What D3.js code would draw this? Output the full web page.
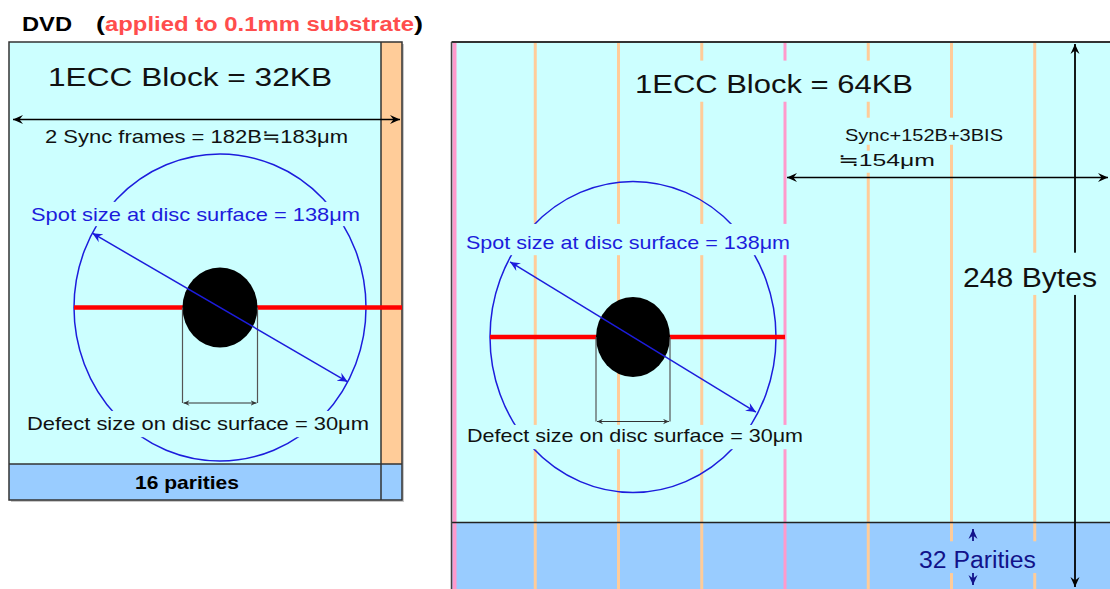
<!DOCTYPE html>
<html><head><meta charset="utf-8">
<script src="https://cdn.jsdelivr.net/npm/d3@7"></script>
<style>html,body{margin:0;padding:0;background:#fff;}svg{display:block;}</style>
</head><body>
<script>
// ---- data ----
const headerTexts = ["DVD", "(", "applied to 0.1mm substrate", ")"];
const blockTitles = ["1ECC Block = 32KB", "1ECC Block = 64KB"];
const frameLabels = ["2 Sync frames = 182B≒183μm", "Sync+152B+3BIS", "≒154μm"];
const spotLabels = ["Spot size at disc surface = 138μm", "Spot size at disc surface = 138μm"];
const defectLabels = ["Defect size on disc surface = 30μm", "Defect size on disc surface = 30μm"];
const rowLabels = ["248 Bytes"];
const parityLabels = ["16 parities", "32 Parities"];
const columnKinds = ["pink","orange","orange","orange","pink","orange","orange","orange","pink"];
const sizesUm = {spot: 138, defect: 30};

const W = 1110, H = 589;
const svg = d3.select("body").append("svg").attr("width", W).attr("height", H);
const FONT = "'Liberation Sans', Arial, 'DejaVu Sans', sans-serif";
const C = {cyan:"#ccffff", orange:"#ffcc99", parity:"#99ccff", pink:"#ff99cc", blue:"#1c1cdc", red:"#ff0000", navy:"#12128a", border:"#333"};

const defs = svg.append("defs");
function marker(id, color, s) {
  defs.append("marker").attr("id", id).attr("viewBox", "-10 -5 12 10")
    .attr("markerWidth", 12*s).attr("markerHeight", 10*s).attr("refX", 0).attr("refY", 0)
    .attr("orient", "auto-start-reverse").attr("markerUnits", "userSpaceOnUse")
    .append("path").attr("d", "M0,0 L-10,-4.5 L-6.5,0 L-10,4.5 Z").attr("fill", color);
}
marker("ab", "#000", 1.0);
marker("ag", "#333", 0.6);
marker("abl", C.blue, 1.0);
marker("anv", C.navy, 1.0);

// text helper with optional background to interrupt lines
function label(g, text, x0, x1, base, size, opt = {}) {
  if (opt.bg) {
    const pt = opt.padT ?? 6, pb = opt.padB ?? 5, px = opt.padX ?? 4;
    g.append("rect").attr("x", x0 - px).attr("y", base - 0.9*size - pt)
      .attr("width", x1 - x0 + 2*px).attr("height", 1.12*size + pt + pb)
      .attr("fill", opt.bg);
  }
  return g.append("text").attr("x", x0).attr("y", base)
    .attr("font-family", FONT).attr("font-size", size)
    .attr("font-weight", opt.bold ? "bold" : "normal")
    .attr("fill", opt.color || "#111")
    .attr("textLength", x1 - x0).attr("lengthAdjust", "spacingAndGlyphs")
    .text(text);
}

// ---- header ----
const hdr = svg.append("g");
label(hdr, headerTexts[0], 22, 72, 31, 20, {bold:true, color:"#000"});
label(hdr, headerTexts[1], 96, 105, 31, 20, {bold:true, color:"#000"});
label(hdr, headerTexts[2], 105, 414, 31, 20, {bold:true, color:"#ff4d4d"});
label(hdr, headerTexts[3], 414, 423, 31, 20, {bold:true, color:"#000"});

// ---- LEFT PANEL (DVD, 32KB) ----
const L = svg.append("g");
const lx = d3.scaleLinear().domain([0, 183]).range([9, 402]); // micron scale across 2 sync frames
const ly = d3.scaleLinear().domain([0, 1]).range([42, 500]);
const lParityY = 464, lSplitX = 381;
L.append("rect").attr("x", 11).attr("y", 44).attr("width", 393).attr("height", 458).attr("fill", "#c8c8c8");
L.append("rect").attr("x", lx(0)).attr("y", ly(0)).attr("width", lx(183)-lx(0)).attr("height", lParityY-ly(0)).attr("fill", C.cyan);
L.append("rect").attr("x", lSplitX).attr("y", ly(0)).attr("width", lx(183)-lSplitX).attr("height", lParityY-ly(0)).attr("fill", C.orange);
L.append("rect").attr("x", lx(0)).attr("y", lParityY).attr("width", lx(183)-lx(0)).attr("height", ly(1)-lParityY).attr("fill", C.parity);
L.append("line").attr("x1", lSplitX).attr("x2", lSplitX).attr("y1", ly(0)).attr("y2", ly(1)).attr("stroke", C.border).attr("stroke-width", 1.5);
L.append("line").attr("x1", lx(0)).attr("x2", lx(183)).attr("y1", lParityY).attr("y2", lParityY).attr("stroke", C.border).attr("stroke-width", 1.5);
L.append("rect").attr("x", lx(0)).attr("y", ly(0)).attr("width", lx(183)-lx(0)).attr("height", ly(1)-ly(0))
  .attr("fill", "none").attr("stroke", C.border).attr("stroke-width", 1.5);

label(L, blockTitles[0], 48, 332, 86, 26);
L.append("line").attr("x1", 13).attr("x2", 400).attr("y1", 119.5).attr("y2", 119.5)
  .attr("stroke", "#000").attr("stroke-width", 1.6)
  .attr("marker-start", "url(#ab)").attr("marker-end", "url(#ab)");
label(L, frameLabels[0], 45, 348, 143, 19);

function spotGroup(g, cx, cy, rx, ry, redX0, redX1, ang, armLen, defRx, defRy, defY) {
  g.append("ellipse").attr("cx", cx).attr("cy", cy).attr("rx", rx).attr("ry", ry)
    .attr("fill", "none").attr("stroke", C.blue).attr("stroke-width", 1.5);
  g.append("line").attr("x1", redX0).attr("x2", redX1).attr("y1", cy).attr("y2", cy)
    .attr("stroke", C.red).attr("stroke-width", 4.5);
  g.append("ellipse").attr("cx", cx).attr("cy", cy).attr("rx", defRx).attr("ry", defRy).attr("fill", "#000");
  [-1, 1].forEach(s => g.append("line").attr("x1", cx + s*defRx).attr("x2", cx + s*defRx)
    .attr("y1", cy).attr("y2", defY).attr("stroke", "#555").attr("stroke-width", 1.2));
  g.append("line").attr("x1", cx - defRx + 1).attr("x2", cx + defRx - 1).attr("y1", defY).attr("y2", defY)
    .attr("stroke", "#333").attr("stroke-width", 1.2)
    .attr("marker-start", "url(#ag)").attr("marker-end", "url(#ag)");
  const a = ang * Math.PI / 180;
  g.append("line").attr("x1", cx - armLen*Math.cos(a)).attr("y1", cy - armLen*Math.sin(a))
    .attr("x2", cx + armLen*Math.cos(a)).attr("y2", cy + armLen*Math.sin(a))
    .attr("stroke", C.blue).attr("stroke-width", 1.5)
    .attr("marker-start", "url(#abl)").attr("marker-end", "url(#abl)");
}
// spot / defect sized from the micron scale (≈2.15 px per μm)
const pxUm = (lx(183) - lx(0)) / 183;
spotGroup(L, 220, 307.5, 146, 153.5, 74, 402, 30.2, sizesUm.spot*pxUm/2 - 0.5, 37.5, 40, 403);
label(L, spotLabels[0], 31, 360, 221, 19, {color: C.blue, bg: C.cyan, padT: 2, padB: 1, padX: 3});
label(L, defectLabels[0], 27, 369, 430, 19, {bg: C.cyan, padT: 2, padB: 3, padX: 3});
label(L, parityLabels[0], 135, 239, 489, 19, {bold: true, color: "#000"});

// ---- RIGHT PANEL (64KB) ----
const R = svg.append("g");
const rx = d3.scaleLinear().domain([0, 8]).range([452, 1118]); // column boundaries
const rTop = 42, rBot = 600, rParityY = 522.5;
R.append("rect").attr("x", 452).attr("y", rTop).attr("width", 700).attr("height", rParityY - rTop).attr("fill", C.cyan);
R.append("rect").attr("x", 452).attr("y", rParityY).attr("width", 700).attr("height", rBot - rParityY).attr("fill", C.parity);
R.selectAll("line.col").data(columnKinds).join("line").attr("class", "col")
  .attr("x1", (d, i) => rx(i) + (i === 0 ? 2.5 : 0)).attr("x2", (d, i) => rx(i) + (i === 0 ? 2.5 : 0))
  .attr("y1", rTop).attr("y2", rBot)
  .attr("stroke", d => d === "pink" ? C.pink : C.orange)
  .attr("stroke-width", (d, i) => i === 0 ? 4 : 3);
R.append("line").attr("x1", 452).attr("x2", 1120).attr("y1", rParityY).attr("y2", rParityY).attr("stroke", "#222").attr("stroke-width", 1.5);
R.append("line").attr("x1", 451.5).attr("x2", 1120).attr("y1", rTop).attr("y2", rTop).attr("stroke", "#333").attr("stroke-width", 2);
R.append("line").attr("x1", 451.5).attr("x2", 451.5).attr("y1", rTop).attr("y2", rBot).attr("stroke", "#444").attr("stroke-width", 1.5);

spotGroup(R, 633, 337, 143, 155.5, 490, rx(4), 31.4, 144, 37, 40, 421.5);

// frame arrow and 248-byte arrow
R.append("line").attr("x1", rx(4) + 2).attr("x2", 1108).attr("y1", 177.5).attr("y2", 177.5)
  .attr("stroke", "#000").attr("stroke-width", 1.6)
  .attr("marker-start", "url(#ab)").attr("marker-end", "url(#ab)");
R.append("line").attr("x1", 1075).attr("x2", 1075).attr("y1", 44).attr("y2", 587)
  .attr("stroke", "#000").attr("stroke-width", 1.8)
  .attr("marker-start", "url(#ab)").attr("marker-end", "url(#ab)");

label(R, blockTitles[1], 635, 913, 93, 26, {bg: C.cyan, padT: 9, padB: 3, padX: 10});
label(R, frameLabels[1], 845, 1003, 141, 17, {bg: C.cyan, padT: 8, padB: 0, padX: 6});
label(R, frameLabels[2], 838, 935, 166, 17, {bg: C.cyan, padT: 0, padB: 3, padX: 6});
label(R, spotLabels[1], 466, 790, 249, 19, {color: C.blue, bg: C.cyan, padT: 8, padB: 2, padX: 3});
label(R, defectLabels[1], 467, 803, 442, 19, {bg: C.cyan, padT: 0, padB: 3, padX: 3});
label(R, rowLabels[0], 963, 1097, 287, 27, {bg: C.cyan, padT: 10, padB: 2, padX: 3});
label(R, parityLabels[1], 919, 1036, 568, 23, {color: C.navy, bg: C.parity, padT: 6, padB: 0, padX: 2});
R.append("line").attr("x1", 973).attr("x2", 973).attr("y1", 541).attr("y2", 529)
  .attr("stroke", C.navy).attr("stroke-width", 1.8).attr("marker-end", "url(#anv)");
R.append("line").attr("x1", 973).attr("x2", 973).attr("y1", 573).attr("y2", 585)
  .attr("stroke", C.navy).attr("stroke-width", 1.8).attr("marker-end", "url(#anv)");
</script>
</body></html>
